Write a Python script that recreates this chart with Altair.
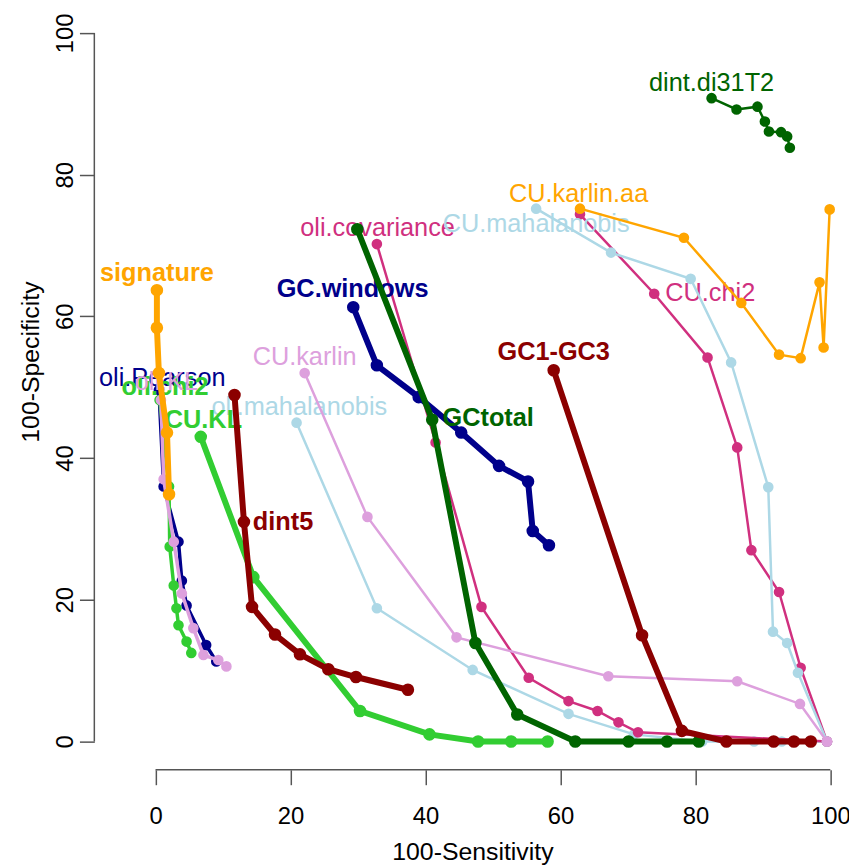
import altair as alt
import pandas as pd

# ---------------- data ----------------
series_names = ["oli.Pearson", "oli.chi2", "oli.KL", "oli.mahalanobis", "oli.covariance",
                "CU.chi2", "CU.mahalanobis", "CU.karlin", "CU.karlin.aa", "dint.di31T2",
                "CU.KL", "dint5", "GC.windows", "GCtotal", "GC1-GC3", "signature"]

oli_pearson_x = [0.5, 1.2, 3.4, 3.9, 4.6, 7.5, 9.0]
oli_pearson_y = [49.6, 36.0, 28.2, 22.7, 19.2, 13.6, 11.3]

oli_chi2_x = [0.6, 2.0, 2.1, 2.7, 3.1, 3.4, 4.6, 5.3]
oli_chi2_y = [48.2, 36.0, 27.5, 22.0, 18.8, 16.4, 14.1, 12.5]

oli_kl_x = [0.8, 1.2, 2.7, 3.9, 5.6, 7.1, 9.3, 10.5]
oli_kl_y = [48.2, 37.0, 28.2, 20.9, 16.0, 12.2, 11.5, 10.6]

oli_mahal_x = [20.9, 32.8, 47.0, 61.2, 70.9, 81.0, 88.7, 92.8, 99.5]
oli_mahal_y = [45.0, 18.8, 10.1, 3.9, 1.0, 0.0, 0.0, 0.0, 0.0]

oli_cov_x = [32.8, 41.5, 48.3, 55.3, 61.2, 65.5, 68.6, 71.5, 99.5]
oli_cov_y = [70.2, 42.2, 19.0, 9.0, 5.7, 4.3, 2.7, 1.3, 0.0]

cu_chi2_x = [62.9, 73.9, 81.8, 86.2, 88.3, 92.4, 95.6, 99.5]
cu_chi2_y = [74.4, 63.2, 54.2, 41.5, 27.0, 21.1, 10.4, 0.0]

cu_mahal_x = [56.4, 67.5, 79.3, 85.3, 90.8, 91.5, 93.6, 95.2, 99.5]
cu_mahal_y = [75.2, 69.0, 65.3, 53.5, 35.9, 15.5, 13.9, 9.7, 0.0]

cu_karlin_x = [22.1, 31.4, 44.6, 67.1, 86.2, 95.5, 99.5]
cu_karlin_y = [52.0, 31.7, 14.7, 9.2, 8.5, 5.3, 0.0]

cu_karlin_aa_x = [62.9, 78.3, 86.8, 92.4, 95.6, 98.4, 99.0, 99.9]
cu_karlin_aa_y = [75.2, 71.1, 61.9, 54.6, 54.1, 64.8, 55.6, 75.1]

dint_di31_x = [82.4, 86.1, 89.2, 90.3, 90.9, 92.7, 93.6, 94.0]
dint_di31_y = [90.8, 89.2, 89.6, 87.5, 86.1, 86.0, 85.4, 83.8]

cu_kl_x = [6.7, 14.5, 30.3, 40.6, 47.8, 52.7, 58.1]
cu_kl_y = [43.0, 23.2, 4.3, 1.0, 0.0, 0.0, 0.0]

dint5_x = [11.7, 13.1, 14.3, 17.7, 21.4, 25.6, 29.7, 37.4]
dint5_y = [48.9, 31.0, 19.0, 15.1, 12.3, 10.2, 9.1, 7.3]

gc_windows_x = [29.3, 32.8, 39.0, 45.3, 50.9, 55.2, 55.9, 58.3]
gc_windows_y = [61.3, 53.1, 48.6, 43.6, 38.9, 36.7, 29.7, 27.7]

gctotal_x = [29.9, 41.0, 47.4, 53.6, 62.2, 70.1, 75.8, 80.5]
gctotal_y = [72.3, 45.4, 13.9, 3.8, 0.0, 0.0, 0.0, 0.0]

gc1_gc3_x = [59.0, 72.1, 78.0, 84.6, 91.6, 94.6, 97.1]
gc1_gc3_y = [52.4, 15.0, 1.5, 0.0, 0.0, 0.0, 0.0]

signature_x = [0.2, 0.2, 0.5, 1.7, 2.0]
signature_y = [63.7, 58.4, 52.0, 43.6, 34.9]

# label anchor positions (data units)
label_x = [1.0, 1.4, 1.6, 21.3, 32.9, 82.2, 56.4, 22.1, 62.7, 82.4, 7.1, 18.9, 29.2, 49.3, 59.0, 0.2]
label_y = [51.3, 50.0, 50.7, 47.2, 72.4, 63.3, 73.0, 54.2, 77.3, 92.9, 45.4, 31.0, 63.9, 45.7, 54.9, 66.1]

x_ticks = [0, 20, 40, 60, 80, 100]
y_ticks = [0, 20, 40, 60, 80, 100]

series_xy = [
    (oli_pearson_x, oli_pearson_y), (oli_chi2_x, oli_chi2_y), (oli_kl_x, oli_kl_y),
    (oli_mahal_x, oli_mahal_y), (oli_cov_x, oli_cov_y), (cu_chi2_x, cu_chi2_y),
    (cu_mahal_x, cu_mahal_y), (cu_karlin_x, cu_karlin_y), (cu_karlin_aa_x, cu_karlin_aa_y),
    (dint_di31_x, dint_di31_y), (cu_kl_x, cu_kl_y), (dint5_x, dint5_y),
    (gc_windows_x, gc_windows_y), (gctotal_x, gctotal_y), (gc1_gc3_x, gc1_gc3_y),
    (signature_x, signature_y),
]

# ---------------- styles ----------------
VIOLET = "#D0307F"
colors = {
    "oli.Pearson": "#00008B", "oli.chi2": "#32CD32", "oli.KL": "#DDA0DD",
    "oli.mahalanobis": "#ADD8E6", "oli.covariance": VIOLET, "CU.chi2": VIOLET,
    "CU.mahalanobis": "#ADD8E6", "CU.karlin": "#DDA0DD", "CU.karlin.aa": "#FFA500",
    "dint.di31T2": "#006400", "CU.KL": "#32CD32", "dint5": "#8B0000",
    "GC.windows": "#00008B", "GCtotal": "#006400", "GC1-GC3": "#8B0000",
    "signature": "#FFA500",
}
thick = {"CU.KL", "dint5", "GC.windows", "GCtotal", "GC1-GC3", "signature"}
medium = {"oli.Pearson", "oli.chi2", "oli.KL"}
bold_labels = thick | {"oli.chi2"}

FONT = "Liberation Sans"
X0, X1 = -9.07, 101.0
Y0, Y1 = -4.0, 102.5
W, H = 748.5, 760.4

xscale = alt.Scale(domain=[X0, X1], nice=False, zero=False)
yscale = alt.Scale(domain=[Y0, Y1], nice=False, zero=False)

common_axis = dict(domain=False, grid=False, tickSize=15, tickColor="#555555", tickWidth=1.5,
                   labelFontSize=24, labelFont=FONT, labelColor="black", titleFontSize=25,
                   titleFont=FONT, titleFontWeight="normal", titleColor="black", format="d",
                   labelFlush=False, labelOverlap=False)
xaxis = alt.Axis(values=x_ticks, labelPadding=20, titlePadding=11, titleX=381, **common_axis)
yaxis = alt.Axis(values=y_ticks, labelAngle=270, labelAlign="center", labelBaseline="bottom",
                 labelPadding=2, titlePadding=10, titleY=349, **common_axis)


def X(field):
    return alt.X(field, type="quantitative", scale=xscale, axis=xaxis, title="100-Sensitivity")


def Y(field):
    return alt.Y(field, type="quantitative", scale=yscale, axis=yaxis, title="100-Specificity")


layers = []

# axis lines (R style: only from first to last tick)
xline = pd.DataFrame({"a": [x_ticks[0]], "b": [x_ticks[-1]], "c": [Y0]})
yline = pd.DataFrame({"a": [y_ticks[0]], "b": [y_ticks[-1]], "c": [X0]})
layers.append(alt.Chart(xline).mark_rule(color="#555555", strokeWidth=1.5).encode(
    x=X("a"), x2="b", y=Y("c")))
layers.append(alt.Chart(yline).mark_rule(color="#555555", strokeWidth=1.5).encode(
    y=Y("a"), y2="b", x=X("c")))

for i, name in enumerate(series_names):
    xs, ys = series_xy[i]
    df = pd.DataFrame({"x": xs, "y": ys, "i": list(range(len(xs)))})
    col = colors[name]
    if name in thick:
        sw, sz = 6, 160
    elif name in medium:
        sw, sz = 3.5, 115
    else:
        sw, sz = 2.5, 115
    base = alt.Chart(df)
    layers.append(base.mark_line(color=col, strokeWidth=sw).encode(
        x=X("x"), y=Y("y"), order=alt.Order("i:Q")))
    layers.append(base.mark_point(filled=True, color=col, opacity=1, size=sz).encode(
        x=X("x"), y=Y("y")))
    ldf = pd.DataFrame({"x": [label_x[i]], "y": [label_y[i]], "t": [name]})
    layers.append(alt.Chart(ldf).mark_text(
        color=col, font=FONT, fontSize=25.5,
        fontWeight="bold" if name in bold_labels else "normal",
        align="center", baseline="middle").encode(x=X("x"), y=Y("y"), text="t:N"))

chart = alt.layer(*layers).properties(
    width=W, height=H,
    autosize=alt.AutoSizeParams(type="none"),
    padding={"left": 87, "top": 4, "right": 12, "bottom": 93},
    background="white",
).configure_view(strokeWidth=0)

chart.save("out.html", embed_options={"renderer": "svg", "actions": False})
